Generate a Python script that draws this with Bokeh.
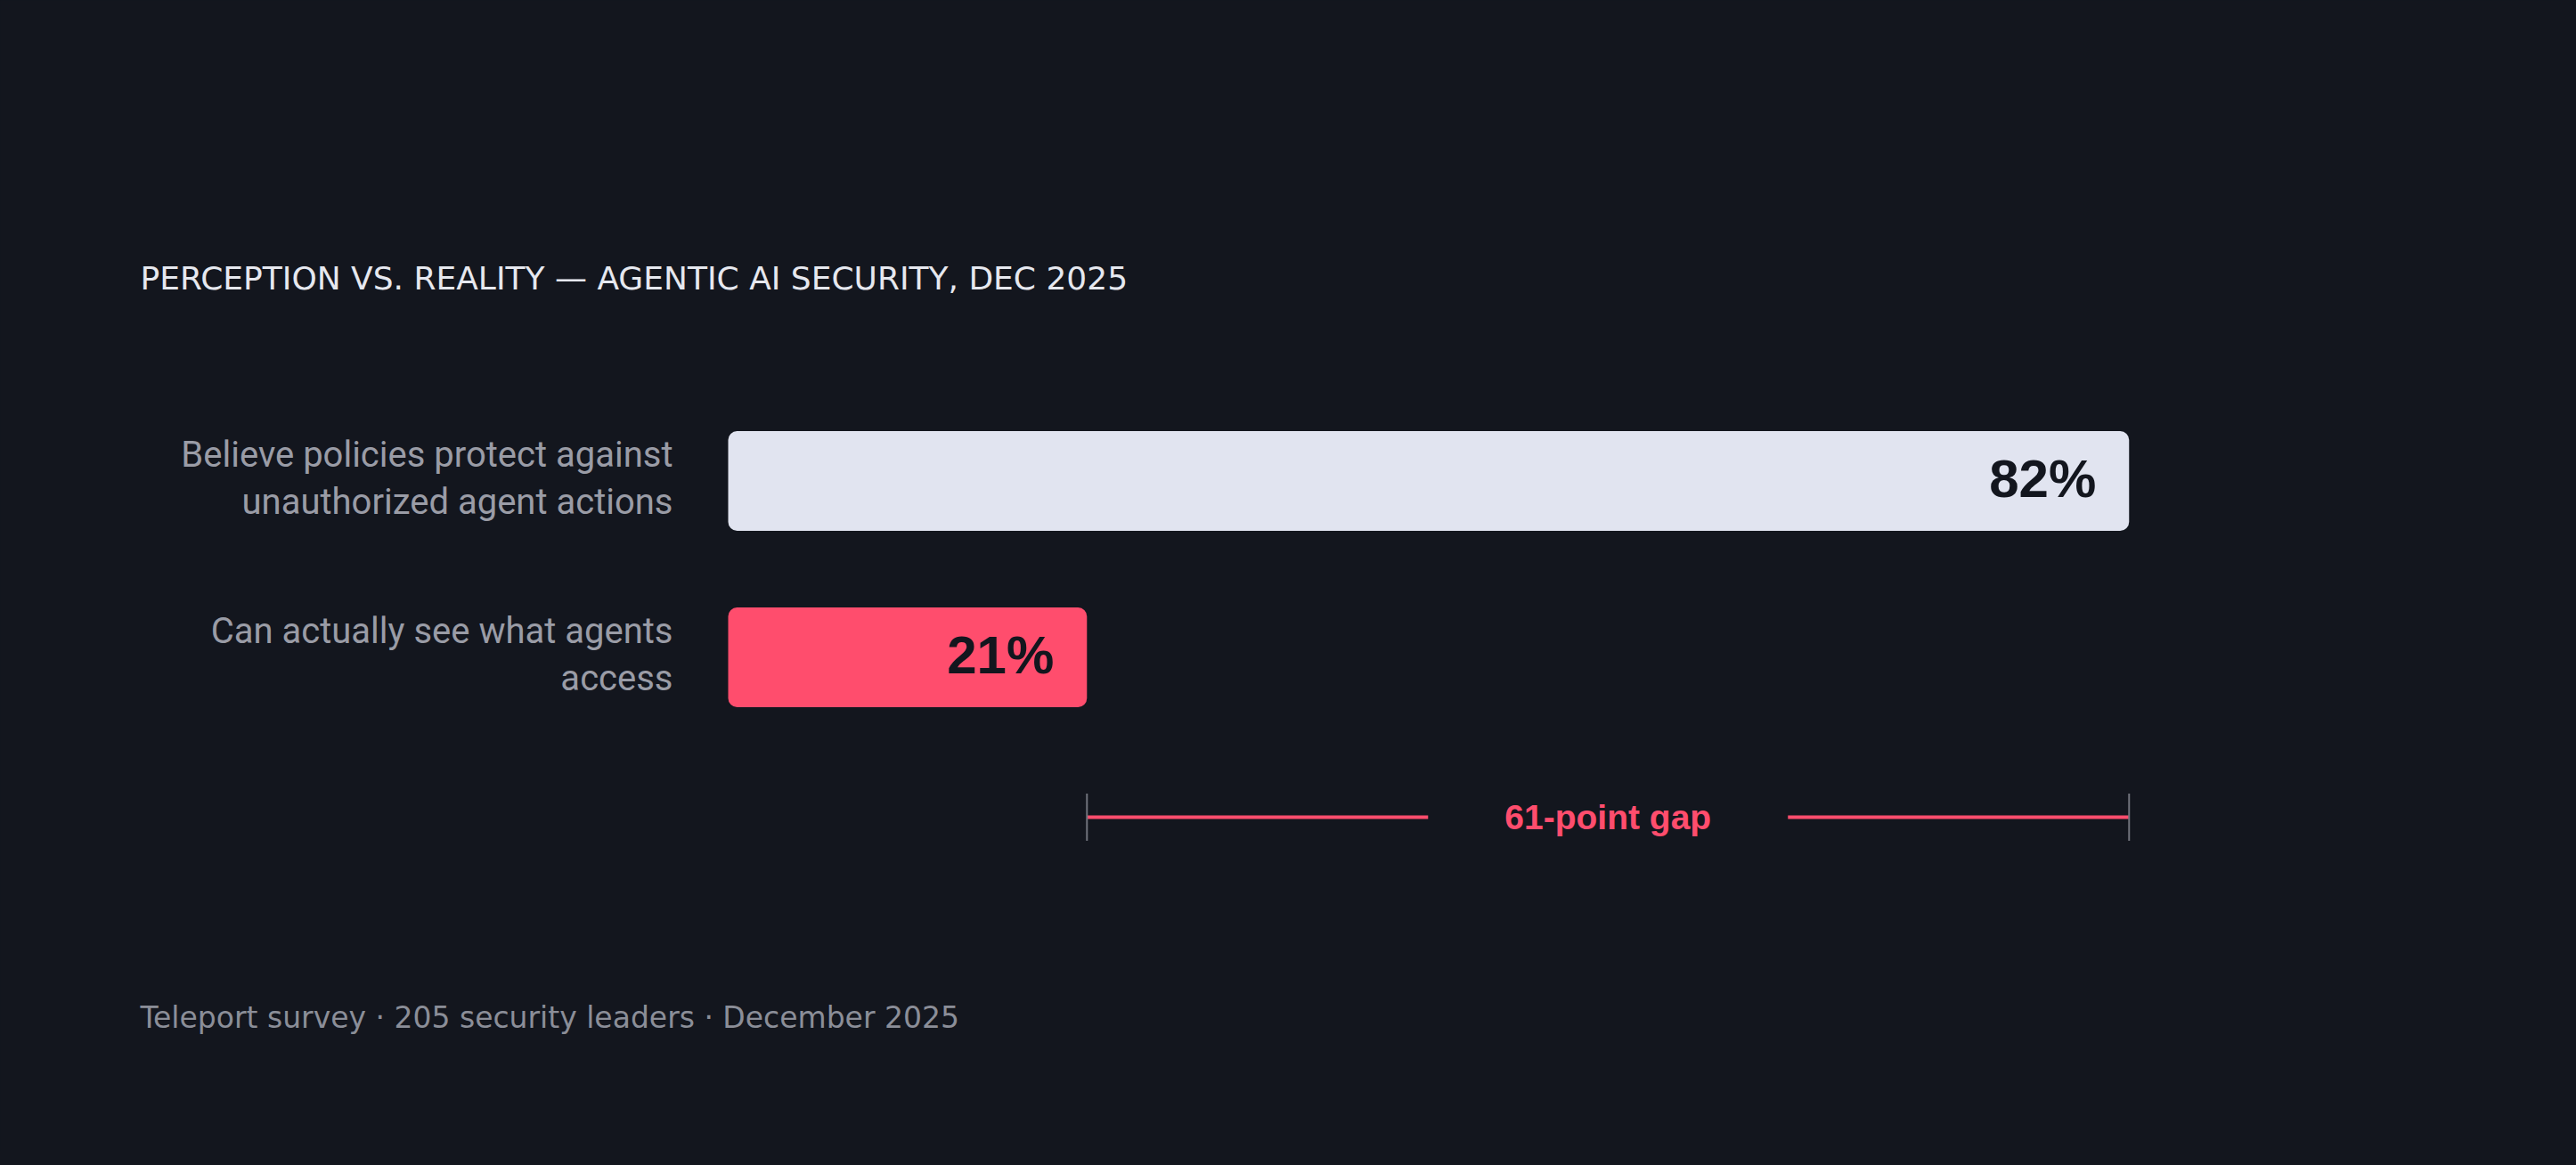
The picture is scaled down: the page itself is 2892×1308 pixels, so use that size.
from bokeh.core.properties import value
from bokeh.embed import file_html
from bokeh.models import ColumnDataSource, Label, Range1d
from bokeh.plotting import figure
from bokeh.resources import INLINE

# data
categories = [
    "Believe policies protect against\nunauthorized agent actions",
    "Can actually see what agents\naccess",
]
shares = [82, 21]
bar_colors = ["#e1e4f0", "#ff4d6d"]
title_text = "PERCEPTION VS. REALITY \u2014 AGENTIC AI SECURITY, DEC 2025"
footer_text = "Teleport survey \u00b7 205 security leaders \u00b7 December 2025"

BG = "#13161e"
W, H = 2876, 1292
X0, PX100 = 817, 1918          # pixel position of 0% and pixels per 100%
ROW0, ROW_PX = 539.5, 198      # pixel position of first row and row spacing

p = figure(
    width=W,
    height=H,
    x_range=Range1d(-X0 / PX100 * 100, (W - X0) / PX100 * 100),
    y_range=Range1d((H - ROW0) / ROW_PX, -ROW0 / ROW_PX),
    output_backend="svg",
    toolbar_location=None,
    min_border=0,
)
p.axis.visible = False
p.grid.visible = False
p.outline_line_color = None
p.background_fill_color = BG
p.border_fill_color = BG

rows = list(range(len(categories)))
src = ColumnDataSource(data=dict(
    y=rows,
    share=shares,
    color=bar_colors,
    cat=categories,
    label=[f"{s}%" for s in shares],
))

p.hbar(y="y", left=0, right="share", height=112 / ROW_PX, color="color",
       line_color=None, border_radius=10, source=src)

p.text(x=0, y="y", text="cat", source=src, x_offset=-62, y_offset=-3,
       text_align="right", text_baseline="middle", text_font=value("Roboto"),
       text_font_size="40px", text_color="#9a9ca6", text_line_height=1.12)

p.text(x="share", y="y", text="label", source=src, x_offset=-37, y_offset=-3,
       text_align="right", text_baseline="middle",
       text_font=value("Liberation Sans"), text_font_style="bold",
       text_font_size="60px", text_color=BG)

# gap annotation
hi, lo = max(shares), min(shares)
gap_y = (917 - ROW0) / ROW_PX
tick_h = 26.5 / ROW_PX
mid = (hi + lo) / 2
half = 202 / PX100 * 100
p.segment(x0=[lo, mid + half], y0=[gap_y, gap_y], x1=[mid - half, hi], y1=[gap_y, gap_y],
          line_color="#ff4d6d", line_width=4)
p.segment(x0=[lo, hi], y0=[gap_y - tick_h] * 2, x1=[lo, hi], y1=[gap_y + tick_h] * 2,
          line_color="#70737c", line_width=2)
p.text(x=[mid], y=[gap_y], text=[f"{hi - lo}-point gap"], text_align="center",
       text_baseline="middle", text_font=value("Liberation Sans"),
       text_font_style="bold", text_font_size="39px", text_color="#ff4d6d")

p.add_layout(Label(x=157, y=H - 312, x_units="screen", y_units="screen",
                   text=title_text, text_baseline="middle", text_font="DejaVu Sans",
                   text_font_size="36px", text_color="#e6e8ef"))
p.add_layout(Label(x=157, y=H - 1142, x_units="screen", y_units="screen",
                   text=footer_text, text_baseline="middle", text_font="DejaVu Sans",
                   text_font_size="33px", text_color="#8b8e98"))

html = file_html(p, INLINE)
html = html.replace("</head>", "<style>body{background:%s;}</style></head>" % BG, 1)
open("out.html", "w").write(html)
